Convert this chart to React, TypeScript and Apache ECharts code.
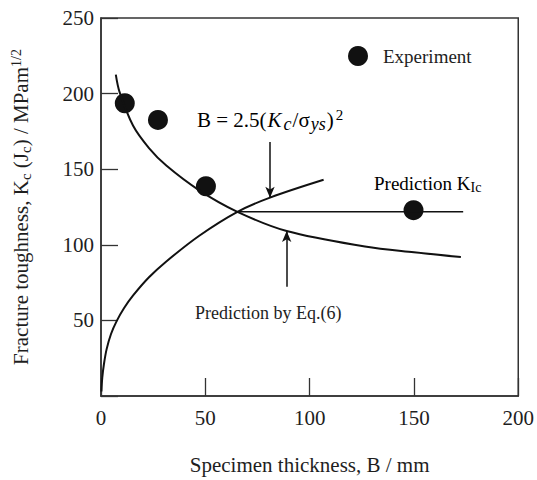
import React, { useEffect, useRef } from 'react';
import * as echarts from 'echarts';

// ---- data ----
const xTickValues = [0, 50, 100, 150, 200];
const yTickValues = [0, 50, 100, 150, 200, 250];

const experimentB = [11.4, 27.3, 50.3, 149.8];
const experimentK = [193.6, 182.6, 138.7, 122.9];

// Prediction by Eq.(6) (decreasing curve)
const eq6B = [7.1, 9.0, 15.4, 23, 31.3, 47.1, 65.4, 89, 126.5, 150, 172.5];
const eq6K = [212.6, 200.6, 178.7, 164, 152.4, 136, 121.8, 109.1, 98.9, 95, 91.9];

// B = 2.5(Kc/σys)^2 (increasing curve)
const validB = [0.2, 0.6, 1.4, 2.7, 4.8, 7.5, 11, 15.4, 23, 31.3, 47.1, 65.4, 81, 106.7];
const validK = [3, 12, 21, 31, 41, 49.5, 58, 66.5, 78.5, 89, 106, 121.8, 131.2, 143];

// Prediction KIc (horizontal line)
const kIcB = [65.4, 173.6];
const kIcK = [121.8, 121.8];

// annotation arrows: x, start K, tip K
const arrowB = [81, 89];
const arrowFromK = [168, 72.2];
const arrowToK = [131.2, 109.1];

const SERIF = "'Liberation Serif', 'Times New Roman', serif";
const INK = '#1e1e1e';

const zip = (a: number[], b: number[]) => a.map((v, i) => [v, b[i]]);

export default function App() {
  const ref = useRef<HTMLDivElement>(null);

  useEffect(() => {
    if (!ref.current) return;
    const chart = echarts.init(ref.current, undefined, { renderer: 'svg' });

    const richMain = {
      n: { fontSize: 21, fontFamily: SERIF, color: INK, lineHeight: 26 },
      i: { fontSize: 21, fontFamily: SERIF, fontStyle: 'italic', color: INK, lineHeight: 26, padding: [0, 1, 0, 1] },
      si: { fontSize: 18, fontFamily: SERIF, fontStyle: 'italic', color: INK, lineHeight: 18, verticalAlign: 'bottom', padding: [0, 1, 0, 1] },
      sup: { fontSize: 15, fontFamily: SERIF, color: INK, lineHeight: 15, verticalAlign: 'top', padding: [0, 0, 0, 2] },
    };

    const option: any = {
      animation: false,
      backgroundColor: '#ffffff',
      grid: {
        left: 101,
        top: 18,
        right: 16,
        bottom: 81,
        show: true,
        borderColor: '#333',
        borderWidth: 1.5,
        backgroundColor: 'transparent',
      },
      legend: {
        data: ['Experiment'],
        left: 348,
        top: 46,
        padding: 0,
        icon: 'circle',
        itemWidth: 40,
        itemHeight: 20,
        itemStyle: { opacity: 1 },
        textStyle: { fontSize: 19, fontFamily: SERIF, color: INK },
      },
      xAxis: {
        type: 'value',
        min: xTickValues[0],
        max: xTickValues[xTickValues.length - 1],
        interval: 50,
        splitLine: { show: false },
        axisLine: { lineStyle: { color: '#333', width: 1.5 } },
        axisTick: { inside: true, length: 18, lineStyle: { color: '#333', width: 1.3 } },
        axisLabel: { fontSize: 21, fontFamily: SERIF, color: INK, margin: 11 },
        name: 'Specimen thickness, B / mm',
        nameLocation: 'middle',
        nameGap: 58,
        nameTextStyle: { fontSize: 21, fontFamily: SERIF, color: INK },
      },
      yAxis: {
        type: 'value',
        min: yTickValues[0],
        max: yTickValues[yTickValues.length - 1],
        interval: 50,
        splitLine: { show: false },
        axisLine: { show: true, lineStyle: { color: '#333', width: 1.5 } },
        axisTick: { show: true, inside: true, length: 17, lineStyle: { color: '#333', width: 1.3 } },
        axisLabel: {
          fontSize: 21,
          fontFamily: SERIF,
          color: INK,
          margin: 7,
          formatter: (v: number) => (v === 0 ? '' : String(v)),
        },
        name: '{n|Fracture toughness, K}{s|c}{n| (J}{s|c}{n|) / MPam}{sup|1/2}',
        nameLocation: 'middle',
        nameRotate: 90,
        nameGap: 68,
        nameTextStyle: {
          fontSize: 21,
          fontFamily: SERIF,
          color: INK,
          rich: {
            n: { fontSize: 21, fontFamily: SERIF, color: INK, lineHeight: 24 },
            s: { fontSize: 15, fontFamily: SERIF, color: INK, lineHeight: 15, verticalAlign: 'bottom' },
            sup: { fontSize: 14, fontFamily: SERIF, color: INK, lineHeight: 14, verticalAlign: 'top' },
          },
        },
      },
      series: [
        {
          name: 'Prediction by Eq.(6)',
          type: 'line',
          data: zip(eq6B, eq6K),
          smooth: 0.35,
          showSymbol: false,
          lineStyle: { color: '#111', width: 2 },
          itemStyle: { color: '#111' },
        },
        {
          name: 'B = 2.5(Kc/σys)^2',
          type: 'line',
          data: zip(validB, validK),
          smooth: 0.35,
          showSymbol: false,
          lineStyle: { color: '#111', width: 2 },
          itemStyle: { color: '#111' },
        },
        {
          name: 'Prediction KIc',
          type: 'line',
          data: zip(kIcB, kIcK),
          showSymbol: false,
          lineStyle: { color: '#111', width: 1.5 },
          itemStyle: { color: '#111' },
          markLine: {
            silent: true,
            symbol: ['none', 'arrow'],
            symbolSize: [7, 11],
            label: { show: false },
            lineStyle: { color: '#111', width: 1.5, type: 'solid' },
            data: arrowB.map((b, i) => [
              { coord: [b, arrowFromK[i]] },
              { coord: [b, arrowToK[i]] },
            ]),
          },
        },
        {
          name: 'Experiment',
          type: 'scatter',
          data: zip(experimentB, experimentK),
          symbol: 'circle',
          symbolSize: 20,
          itemStyle: { color: '#111', opacity: 1 },
        },
      ],
      graphic: [
        {
          type: 'text',
          x: 197,
          y: 120,
          style: {
            text: '{n|B = 2.5(}{i|K}{si|c}{n|/σ}{si|ys}{n|)}{sup|2}',
            rich: richMain,
            align: 'left',
            verticalAlign: 'middle',
          },
        },
        {
          type: 'text',
          x: 374,
          y: 183,
          style: {
            text: '{n|Prediction K}{s|Ic}',
            rich: {
              n: { fontSize: 19, fontFamily: SERIF, color: INK, lineHeight: 22 },
              s: { fontSize: 14, fontFamily: SERIF, color: INK, lineHeight: 14, verticalAlign: 'bottom' },
            },
            align: 'left',
            verticalAlign: 'middle',
          },
        },
        {
          type: 'text',
          x: 195,
          y: 313,
          style: {
            text: 'Prediction by Eq.(6)',
            fontSize: 18,
            fontFamily: SERIF,
            fill: INK,
            align: 'left',
            verticalAlign: 'middle',
          },
        },
      ],
    };

    chart.setOption(option);
    return () => chart.dispose();
  }, []);

  return (
    <div
      ref={ref}
      style={{ position: 'fixed', left: 0, top: 0, width: 537, height: 480, background: '#fff' }}
    />
  );
}
